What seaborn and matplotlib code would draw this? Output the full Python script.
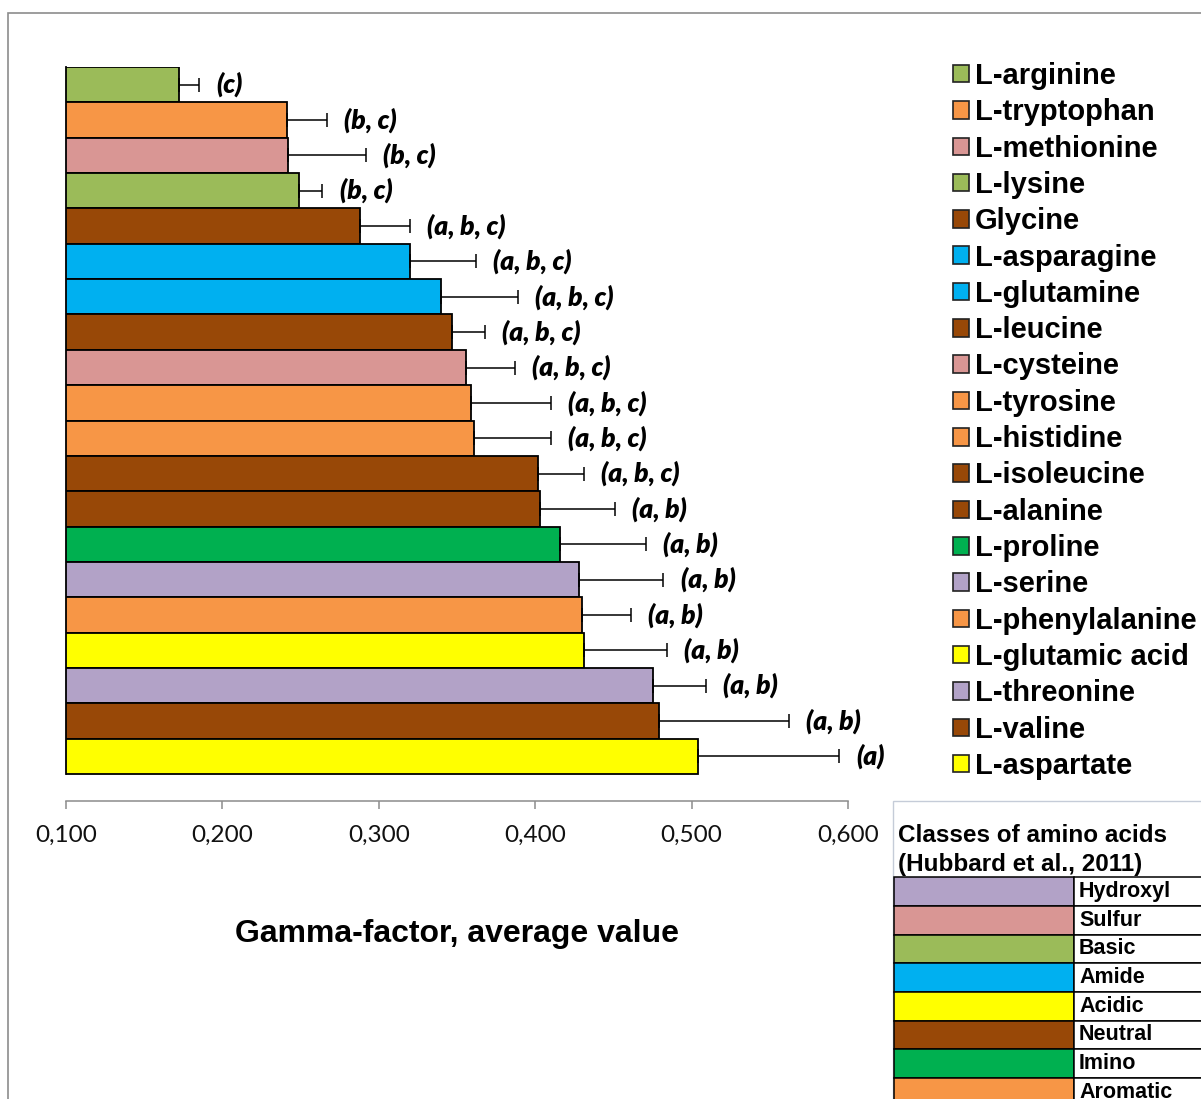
import numpy as np
import pandas as pd
import matplotlib
matplotlib.use("Agg")
import matplotlib.pyplot as plt
from matplotlib.patches import Patch, Rectangle
from matplotlib.ticker import FuncFormatter
import seaborn as sns

# values, top bar first
amino_acids = ["L-arginine", "L-tryptophan", "L-methionine", "L-lysine", "Glycine",
               "L-asparagine", "L-glutamine", "L-leucine", "L-cysteine", "L-tyrosine",
               "L-histidine", "L-isoleucine", "L-alanine", "L-proline", "L-serine",
               "L-phenylalanine", "L-glutamic acid", "L-threonine", "L-valine", "L-aspartate"]
gamma_mean = [0.172, 0.241, 0.242, 0.249, 0.288, 0.320, 0.340, 0.347, 0.356, 0.359,
              0.361, 0.402, 0.403, 0.416, 0.428, 0.430, 0.431, 0.475, 0.479, 0.504]
gamma_err = [0.013, 0.026, 0.050, 0.015, 0.032, 0.042, 0.049, 0.021, 0.031, 0.051,
             0.049, 0.029, 0.048, 0.055, 0.054, 0.031, 0.053, 0.034, 0.083, 0.090]
groups = ["c", "b, c", "b, c", "b, c", "a, b, c", "a, b, c", "a, b, c", "a, b, c",
          "a, b, c", "a, b, c", "a, b, c", "a, b, c", "a, b", "a, b", "a, b", "a, b",
          "a, b", "a, b", "a, b", "a"]
aa_class = ["Basic", "Aromatic", "Sulfur", "Basic", "Neutral", "Amide", "Amide", "Neutral",
            "Sulfur", "Aromatic", "Aromatic", "Neutral", "Neutral", "Imino", "Hydroxyl",
            "Aromatic", "Acidic", "Hydroxyl", "Neutral", "Acidic"]

class_names = ["Hydroxyl", "Sulfur", "Basic", "Amide", "Acidic", "Neutral", "Imino", "Aromatic"]
class_colors = {"Hydroxyl": "#B2A2C7", "Sulfur": "#D99694", "Basic": "#9BBB59",
                "Amide": "#00B0F0", "Acidic": "#FFFF00", "Neutral": "#984807",
                "Imino": "#00B050", "Aromatic": "#F79646"}

df = pd.DataFrame({"amino_acid": amino_acids, "gamma": gamma_mean,
                   "err": gamma_err, "group": groups, "cls": aa_class})
df["color"] = df["cls"].map(class_colors)

sns.set_style("white")
plt.rcParams["font.family"] = ["Liberation Sans", "DejaVu Sans"]
plt.rcParams["text.color"] = "black"

W, H = 1201, 1099
fig = plt.figure(figsize=(W / 100, H / 100), dpi=100)


def fx(x):
    return x / W


def fy(y):
    return 1 - y / H


ax = fig.add_axes([fx(66), fy(801), fx(848) - fx(66), fy(67) - fy(801)])

sns.barplot(data=df, x="gamma", y="amino_acid", hue="amino_acid",
            palette=dict(zip(df["amino_acid"], df["color"])), width=1, saturation=1,
            edgecolor="black", linewidth=1.3, legend=False, orient="h", ax=ax)

pos = np.arange(len(df))
ax.errorbar(df["gamma"], pos, xerr=[np.zeros(len(df)), df["err"]], fmt="none",
            ecolor="black", elinewidth=1.1, capsize=4.7, capthick=1.1)

for i, row in df.iterrows():
    ax.text(row["gamma"] + row["err"] + 0.011, i, f"({row['group']})",
            ha="left", va="center", fontsize=19, fontweight="heavy",
            fontstyle="italic", family=["Lato", "DejaVu Sans"])

ax.set_xlim(0.1, 0.6)
ax.set_ylim(20.26, -0.5)
ax.set_xticks(np.arange(0.1, 0.61, 0.1))
ax.xaxis.set_major_formatter(FuncFormatter(lambda v, p: f"{v:.3f}".replace(".", ",")))
ax.set_yticks([])
ax.set_xlabel("")
ax.set_ylabel("")
ax.tick_params(axis="x", bottom=True, direction="out", length=6, width=1.1, color="#8C8C8C",
               pad=11, labelsize=17.5, labelcolor="#111111")
for lab in ax.get_xticklabels():
    lab.set_family(["Lato", "DejaVu Sans"])
for s in ["top", "right"]:
    ax.spines[s].set_visible(False)
ax.spines["bottom"].set_color("#8C8C8C")
ax.spines["bottom"].set_linewidth(1.1)
ax.spines["left"].set_color("black")
ax.spines["left"].set_linewidth(1.3)
ax.spines["left"].set_bounds(19.5, -0.5)

fig.text(fx(457), fy(934), "Gamma-factor, average value", ha="center", va="center",
         fontsize=23, fontweight="bold")

handles = [Patch(facecolor=c, edgecolor="#222222", linewidth=1.2, label=n)
           for n, c in zip(df["amino_acid"], df["color"])]
fig.legend(handles=handles, loc="upper left", bbox_to_anchor=(fx(953), fy(62)),
           frameon=False, prop={"family": "Liberation Sans", "weight": "bold", "size": 21},
           handlelength=0.55, handleheight=0.55, handletextpad=0.2,
           labelspacing=0.285, borderpad=0, borderaxespad=0)

# class table, bottom right
fig.add_artist(Rectangle((fx(893), fy(1300)), fx(400), fy(801) - fy(1300),
                         transform=fig.transFigure, facecolor="white",
                         edgecolor="#C5CCD8", linewidth=1))
fig.text(fx(898), fy(835), "Classes of amino acids", ha="left", va="center",
         fontsize=17.5, fontweight="bold")
fig.text(fx(898), fy(864), "(Hubbard et al., 2011)", ha="left", va="center",
         fontsize=17.5, fontweight="bold")
row_top, row_h = 877.3, 28.67
for k, name in enumerate(class_names):
    y0 = row_top + k * row_h
    fig.add_artist(Rectangle((fx(894), fy(y0 + row_h)), fx(1074) - fx(894), fy(y0) - fy(y0 + row_h),
                             transform=fig.transFigure, facecolor=class_colors[name],
                             edgecolor="black", linewidth=1.1))
    fig.add_artist(Rectangle((fx(1074), fy(y0 + row_h)), fx(1300) - fx(1074), fy(y0) - fy(y0 + row_h),
                             transform=fig.transFigure, facecolor="white",
                             edgecolor="black", linewidth=1.1))
    fig.text(fx(1079), fy(y0 + row_h / 2), name, ha="left", va="center",
             fontsize=15.5, fontweight="bold")

# outer frame
fig.add_artist(Rectangle((fx(8), fy(1300)), fx(1400), fy(13) - fy(1300),
                         transform=fig.transFigure, facecolor="none",
                         edgecolor="#8C8C8C", linewidth=1.2))

fig.savefig("out.png", dpi=100)
